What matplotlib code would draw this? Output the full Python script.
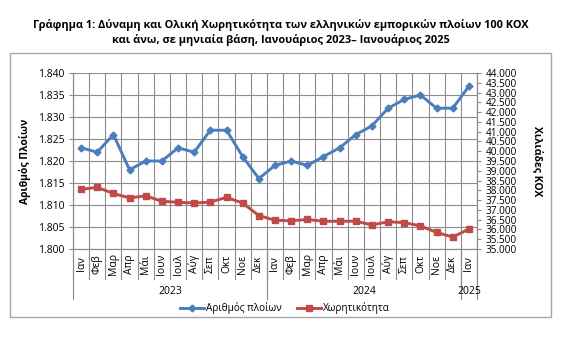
"""Monthly fleet size and gross tonnage of Greek merchant ships, Jan 2023 - Jan 2025."""

import matplotlib

matplotlib.use("Agg")
import matplotlib.pyplot as plt
from matplotlib import patches, transforms
from matplotlib.lines import Line2D
from matplotlib.ticker import FuncFormatter, MultipleLocator

plt.rcParams["font.family"] = ["Open Sans", "DejaVu Sans"]

MONTHS = ["Ιαν", "Φεβ", "Μαρ", "Απρ", "Μάι", "Ιουν", "Ιουλ", "Αύγ", "Σεπ", "Οκτ", "Νοε", "Δεκ"]
month_labels = MONTHS + MONTHS + ["Ιαν"]
years = ["2023", "2024", "2025"]
year_lengths = [12, 12, 1]

# number of vessels (left axis)
vessels = [1823, 1822, 1826, 1818, 1820, 1820, 1823, 1822, 1827, 1827, 1821, 1816,
           1819, 1820, 1819, 1821, 1823, 1826, 1828, 1832, 1834, 1835, 1832, 1832,
           1837]
# gross tonnage, thousands GT (right axis)
tonnage = [38050, 38150, 37840, 37610, 37720, 37440, 37390, 37350, 37400, 37640, 37350, 36710,
           36470, 36440, 36510, 36420, 36420, 36420, 36230, 36390, 36350, 36180, 35850, 35610,
           36020]

BLUE = "#4A7EBB"
RED = "#BE4B48"
GRID = "#8C8C8C"
W, H = 581, 337


def fy(px):
    """Pixel row from the top -> figure fraction."""
    return 1 - px / H


def dotted_thousands(v, _pos):
    return f"{v:,.0f}".replace(",", ".")


fig = plt.figure(figsize=(W / 100, H / 100), dpi=100)
fig.patch.set_facecolor("white")

fig.text(281 / W, fy(25), "Γράφημα 1: Δύναμη και Ολική Χωρητικότητα των ελληνικών εμπορικών πλοίων 100 ΚΟΧ",
         ha="center", va="center", fontsize=7.9, fontweight="bold")
fig.text(281 / W, fy(40), "και άνω, σε μηνιαία βάση, Ιανουάριος 2023– Ιανουάριος 2025",
         ha="center", va="center", fontsize=7.9, fontweight="bold")

# chart border
fig.add_artist(patches.Rectangle((10 / W, fy(317)), 541 / W, (317 - 53) / H,
                                 transform=fig.transFigure, facecolor="none",
                                 edgecolor="#A6A6A6", linewidth=1.0))

ax = fig.add_axes([73 / W, fy(249), (477 - 73) / W, (249 - 73) / H])
ax2 = ax.twinx()

x = list(range(len(month_labels)))
ax.set_xlim(-0.5, len(month_labels) - 0.5)
ax.set_ylim(1800, 1840)
ax.yaxis.set_major_locator(MultipleLocator(5))
ax.yaxis.set_major_formatter(FuncFormatter(dotted_thousands))
ax2.set_ylim(35000, 44000)
ax2.yaxis.set_major_locator(MultipleLocator(500))
ax2.yaxis.set_major_formatter(FuncFormatter(dotted_thousands))

ax.set_xticks([])
ax.grid(axis="y", color=GRID, linewidth=0.8)
for k in range(len(month_labels) + 1):
    ax.axvline(k - 0.5, color=GRID, linewidth=0.8, zorder=0)
ax.set_axisbelow(True)

for a in (ax, ax2):
    a.spines["top"].set_visible(False)
    for side in ("left", "right", "bottom"):
        a.spines[side].set_color(GRID)
        a.spines[side].set_linewidth(0.8)
ax.tick_params(axis="y", labelsize=7.5, length=3, color=GRID, pad=3)
ax2.tick_params(axis="y", labelsize=7.2, length=3, color=GRID, pad=3)

ax.plot(x, vessels, color=BLUE, linewidth=2.1, marker="D", markersize=3.5, zorder=3)
ax2.plot(x, tonnage, color=RED, linewidth=2.1, marker="s", markersize=4, zorder=3)

ax.set_ylabel("Αριθμός Πλοίων", fontsize=7.5, fontweight="bold", labelpad=5)
ax2.set_ylabel("Χιλιάδες ΚΟΧ", fontsize=7.5, fontweight="bold", rotation=270, labelpad=19)

# two-level category axis: months, then years
xt = transforms.blended_transform_factory(ax.transData, fig.transFigure)
for i, lab in enumerate(month_labels):
    ax.text(i, fy(264), lab, transform=xt, rotation=90, ha="center", va="center", fontsize=7.5)
for k in range(len(month_labels) + 1):
    ax.add_line(Line2D([k - 0.5, k - 0.5], [fy(249), fy(279)], transform=xt,
                       color=GRID, linewidth=0.8, clip_on=False))
start = 0
for yr, n in zip(years, year_lengths):
    ax.text(start + n / 2 - 0.5, fy(292), yr, transform=xt, ha="center", va="center", fontsize=7.5)
    for edge in (start, start + n):
        ax.add_line(Line2D([edge - 0.5, edge - 0.5], [fy(249), fy(299)], transform=xt,
                           color=GRID, linewidth=0.8, clip_on=False))
    start += n

handles = [
    Line2D([], [], color=BLUE, linewidth=2.1, marker="D", markersize=3.5),
    Line2D([], [], color=RED, linewidth=2.1, marker="s", markersize=4),
]
fig.legend(handles, ["Αριθμός πλοίων", "Χωρητικότητα"], loc="center",
           bbox_to_anchor=(285 / W, fy(308)), ncol=2, frameon=False, fontsize=7.2,
           handlelength=2.4, handletextpad=0.2, columnspacing=1.6)

fig.savefig("out.png", dpi=100, facecolor="white")
